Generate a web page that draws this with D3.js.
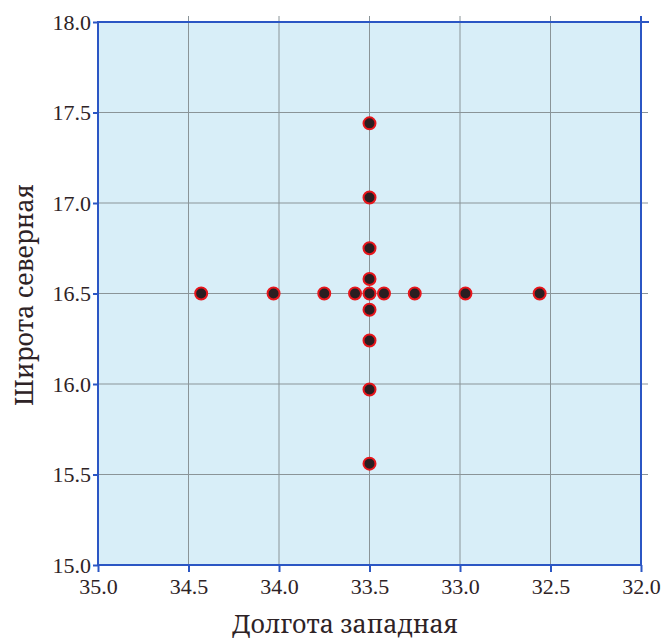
<!DOCTYPE html>
<html>
<head>
<meta charset="utf-8">
<script src="https://cdnjs.cloudflare.com/ajax/libs/d3/7.8.5/d3.min.js"></script>
<style>
  body { margin: 0; background: #fff; }
  .tick text { font-family: "Liberation Serif", serif; font-size: 22px; }
</style>
</head>
<body>
<div class="chart"></div>
<script>
// data
var rowLon = [34.43, 34.03, 33.75, 33.58, 33.5, 33.42, 33.25, 32.97, 32.56];
var rowLat = 16.5;
var colLat = [17.44, 17.03, 16.75, 16.58, 16.41, 16.24, 15.97, 15.56];
var colLon = 33.5;
var xTicks = [35.0, 34.5, 34.0, 33.5, 33.0, 32.5, 32.0];
var yTicks = [15.0, 15.5, 16.0, 16.5, 17.0, 17.5, 18.0];

var points = rowLon.map(function (d) { return { lon: d, lat: rowLat }; })
    .concat(colLat.map(function (d) { return { lon: colLon, lat: d }; }));

var svgWidth = 668;
var svgHeight = 639;
var margin = { top: 22, right: 27, bottom: 74, left: 98 };
var width = svgWidth - margin.left - margin.right;
var height = svgHeight - margin.top - margin.bottom;
var titleFont = "'Noto Serif', 'Liberation Serif', serif";
var ink = '#2e2326';

var svg = d3.select('.chart')
    .append('svg')
    .attr('width', svgWidth)
    .attr('height', svgHeight);

var chart = svg.append('g')
    .attr('transform', 'translate(' + margin.left + ',' + margin.top + ')');

// longitude west: 35 on the left, 32 on the right
var x = d3.scaleLinear().domain([35, 32]).range([0, width]);
var y = d3.scaleLinear().domain([15, 18]).range([height, 0]);

// plot background
chart.append('rect')
    .attr('width', width)
    .attr('height', height)
    .attr('fill', '#d8eef8');

// grid lines, slightly overshooting top and right
chart.selectAll('.vgrid')
    .data(xTicks.slice(1, -1))
    .enter()
    .append('line')
    .attr('x1', function (d) { return x(d); })
    .attr('x2', function (d) { return x(d); })
    .attr('y1', -6)
    .attr('y2', height)
    .attr('stroke', '#8a9498')
    .attr('stroke-width', 1);

chart.selectAll('.hgrid')
    .data(yTicks.slice(1, -1))
    .enter()
    .append('line')
    .attr('x1', 0)
    .attr('x2', width + 7)
    .attr('y1', function (d) { return y(d); })
    .attr('y2', function (d) { return y(d); })
    .attr('stroke', '#8a9498')
    .attr('stroke-width', 1);

// frame
var blue = '#2b56c4';
chart.append('rect')
    .attr('width', width)
    .attr('height', height)
    .attr('fill', 'none')
    .attr('stroke', blue)
    .attr('stroke-width', 2);
chart.append('line')
    .attr('x1', width).attr('x2', width + 8)
    .attr('y1', 0).attr('y2', 0)
    .attr('stroke', blue).attr('stroke-width', 2);
chart.append('line')
    .attr('x1', width).attr('x2', width)
    .attr('y1', 0).attr('y2', -6)
    .attr('stroke', blue).attr('stroke-width', 2);

// axes
var bottomAxis = d3.axisBottom(x)
    .tickValues(xTicks)
    .tickFormat(d3.format('.1f'))
    .tickSize(7)
    .tickSizeOuter(0);
var leftAxis = d3.axisLeft(y)
    .tickValues(yTicks)
    .tickFormat(d3.format('.1f'))
    .tickSize(5)
    .tickSizeOuter(0);

var gx = chart.append('g')
    .attr('transform', 'translate(0,' + height + ')')
    .call(bottomAxis);
gx.select('.domain').remove();
gx.selectAll('line').attr('stroke', blue).attr('stroke-width', 2);
gx.selectAll('text')
    .attr('y', 13)
    .attr('fill', ink);

var gy = chart.append('g').call(leftAxis);
gy.select('.domain').remove();
gy.selectAll('line').attr('stroke', blue).attr('stroke-width', 2);
gy.selectAll('text')
    .attr('x', -7)
    .attr('dy', '0.33em')
    .attr('fill', ink);

// points
chart.selectAll('circle')
    .data(points)
    .enter()
    .append('circle')
    .attr('cx', function (d) { return x(d.lon); })
    .attr('cy', function (d) { return y(d.lat); })
    .attr('r', 6)
    .attr('fill', '#2a1e21')
    .attr('stroke', '#e8161c')
    .attr('stroke-width', 2);

// axis titles
svg.append('text')
    .attr('x', 345)
    .attr('y', 633)
    .attr('text-anchor', 'middle')
    .attr('fill', ink)
    .style('font-family', titleFont)
    .style('font-size', '25px')
    .text('Долгота западная');

svg.append('text')
    .attr('transform', 'translate(33,295) rotate(-90)')
    .attr('text-anchor', 'middle')
    .attr('fill', ink)
    .style('font-family', titleFont)
    .style('font-size', '25px')
    .text('Широта северная');
</script>
</body>
</html>
